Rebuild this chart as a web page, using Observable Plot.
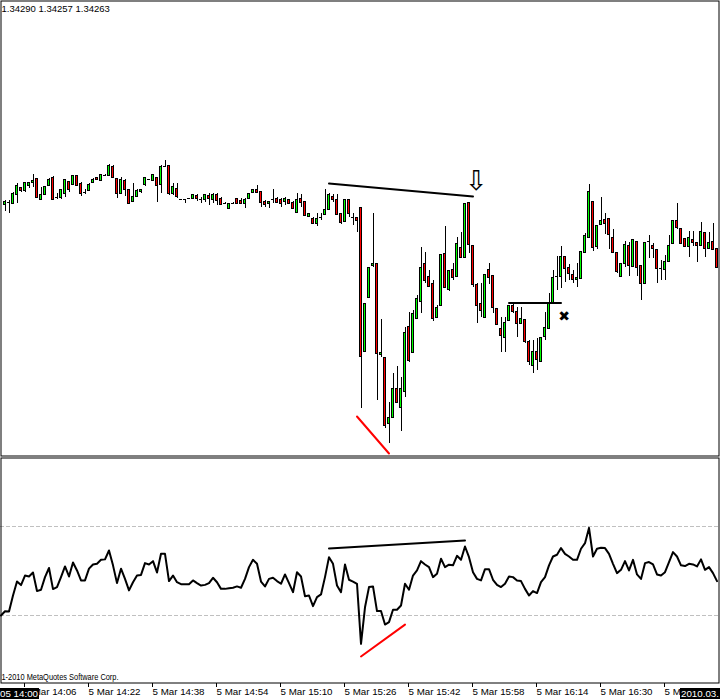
<!DOCTYPE html>
<html><head><meta charset="utf-8">
<script src="https://cdn.jsdelivr.net/npm/d3@7"></script>
<script src="https://cdn.jsdelivr.net/npm/@observablehq/plot@0.6"></script>
<style>
body{margin:0;background:#fff;}
#wrap{position:relative;width:720px;height:700px;overflow:hidden;background:#fff;}
#topPanel{position:absolute;left:0;top:0;}
#botPanel{position:absolute;left:0;top:457px;}
.hl{position:absolute;top:688px;height:11px;background:#000;color:#fff;font:9.75px "Liberation Sans",Arial,sans-serif;line-height:11px;white-space:nowrap;overflow:hidden;display:flex;}
#hlL{left:0;width:39px;justify-content:flex-end;padding-right:1px;box-sizing:border-box;}
#hlR{left:680px;width:40px;justify-content:flex-start;padding-left:1px;box-sizing:border-box;}
</style></head>
<body><div id="wrap"><div id="topPanel"></div><div id="botPanel"></div>
<div class="hl" id="hlL"><span id="hlLt"></span></div>
<div class="hl" id="hlR"><span id="hlRt"></span></div></div>
<script>
// ---- data: EURUSD M1, 5 Mar 2010, bars 14:00 .. 16:59 (index = minutes after 14:00)
const header = "1.34290 1.34257 1.34263";
const copyright = "1-2010 MetaQuotes Software Corp.";
const firstBarLabel = "05 14:00";
const lastBarLabel = "2010.03.";
const tickBars = [6, 22, 38, 54, 70, 86, 102, 118, 134, 150, 166];
const tickLabels = ["5 Mar 14:06","5 Mar 14:22","5 Mar 14:38","5 Mar 14:54","5 Mar 15:10","5 Mar 15:26","5 Mar 15:42","5 Mar 15:58","5 Mar 16:14","5 Mar 16:30","5 Mar 16:46"];

const open = [null,
1.34392,1.34396,1.34394,1.34412,1.34426,1.34420,1.34430,1.34436,1.34444,1.34402,
1.34412,1.34430,1.34446,1.34406,1.34406,1.34414,1.34438,1.34432,1.34450,1.34434,
1.34416,1.34420,1.34436,1.34446,1.34440,1.34450,1.34450,1.34468,1.34444,1.34414,
1.34440,1.34422,1.34398,1.34408,1.34418,1.34432,1.34442,1.34440,1.34446,1.34432,
1.34468,1.34470,1.34414,1.34424,1.34402,1.34402,1.34404,1.34404,1.34410,1.34402,
1.34402,1.34410,1.34402,1.34412,1.34404,1.34394,1.34384,1.34394,1.34404,1.34400,
1.34394,1.34404,1.34416,1.34422,1.34418,1.34398,1.34394,1.34402,1.34404,1.34402,
1.34398,1.34402,1.34396,1.34376,1.34404,1.34398,1.34368,1.34364,1.34354,1.34366,
1.34372,1.34382,1.34408,1.34402,1.34374,1.34358,1.34402,1.34366,1.34366,1.34386,
1.34098,1.34206,1.34270,1.34274,1.34092,1.34086,1.33954,1.33966,1.34024,1.33986,
1.34018,1.34148,1.34096,1.34164,1.34198,1.34274,1.34248,1.34234,1.34166,1.34190,
1.34294,1.34222,1.34262,1.34248,1.34306,1.34286,1.34396,1.34310,1.34232,1.34194,
1.34166,1.34262,1.34250,1.34184,1.34144,1.34126,1.34160,1.34190,1.34178,1.34154,
1.34162,1.34118,1.34070,1.34098,1.34078,1.34128,1.34144,1.34194,1.34248,1.34248,
1.34288,1.34266,1.34252,1.34242,1.34244,1.34296,1.34326,1.34398,1.34308,1.34352,
1.34362,1.34364,1.34326,1.34296,1.34248,1.34274,1.34310,1.34268,1.34318,1.34270,
1.34234,1.34318,1.34310,1.34302,1.34264,1.34262,1.34278,1.34314,1.34360,1.34344,
1.34324,1.34308,1.34322,1.34316,1.34310,1.34336,1.34304,1.34318,1.34304];

const high = [null,
1.34400,1.34400,1.34416,1.34434,1.34426,1.34436,1.34436,1.34452,1.34444,1.34426,
1.34428,1.34444,1.34448,1.34414,1.34422,1.34442,1.34438,1.34450,1.34450,1.34436,
1.34422,1.34434,1.34444,1.34446,1.34452,1.34452,1.34472,1.34470,1.34444,1.34446,
1.34442,1.34422,1.34434,1.34422,1.34422,1.34446,1.34442,1.34452,1.34446,1.34470,
1.34480,1.34470,1.34434,1.34434,1.34402,1.34402,1.34404,1.34412,1.34412,1.34406,
1.34412,1.34414,1.34414,1.34414,1.34406,1.34396,1.34394,1.34396,1.34404,1.34404,
1.34404,1.34414,1.34422,1.34430,1.34418,1.34400,1.34398,1.34422,1.34406,1.34404,
1.34406,1.34402,1.34398,1.34414,1.34412,1.34398,1.34374,1.34366,1.34374,1.34374,
1.34422,1.34414,1.34412,1.34412,1.34374,1.34402,1.34402,1.34374,1.34366,1.34386,
1.34194,1.34266,1.34374,1.34274,1.34162,1.34086,1.33996,1.34054,1.34068,1.34046,
1.34146,1.34176,1.34180,1.34210,1.34306,1.34296,1.34260,1.34240,1.34190,1.34292,
1.34348,1.34260,1.34274,1.34326,1.34336,1.34394,1.34396,1.34310,1.34234,1.34234,
1.34252,1.34274,1.34250,1.34184,1.34166,1.34166,1.34190,1.34194,1.34186,1.34186,
1.34162,1.34120,1.34120,1.34124,1.34126,1.34176,1.34214,1.34260,1.34288,1.34308,
1.34288,1.34272,1.34260,1.34274,1.34298,1.34334,1.34432,1.34398,1.34350,1.34406,
1.34374,1.34364,1.34342,1.34296,1.34274,1.34318,1.34316,1.34322,1.34318,1.34270,
1.34316,1.34330,1.34314,1.34302,1.34280,1.34290,1.34330,1.34360,1.34394,1.34344,
1.34324,1.34338,1.34338,1.34316,1.34356,1.34336,1.34336,1.34354,1.34304];

const low = [null,
1.34378,1.34374,1.34394,1.34394,1.34416,1.34416,1.34424,1.34426,1.34404,1.34402,
1.34410,1.34428,1.34402,1.34402,1.34402,1.34406,1.34416,1.34432,1.34430,1.34408,
1.34412,1.34420,1.34434,1.34440,1.34440,1.34448,1.34448,1.34446,1.34404,1.34412,
1.34408,1.34392,1.34398,1.34406,1.34414,1.34428,1.34440,1.34438,1.34396,1.34414,
1.34466,1.34410,1.34410,1.34404,1.34400,1.34394,1.34404,1.34404,1.34398,1.34394,
1.34396,1.34390,1.34394,1.34390,1.34390,1.34392,1.34382,1.34394,1.34394,1.34394,
1.34384,1.34402,1.34416,1.34416,1.34386,1.34386,1.34384,1.34394,1.34394,1.34386,
1.34390,1.34394,1.34384,1.34376,1.34386,1.34370,1.34368,1.34352,1.34348,1.34360,
1.34370,1.34382,1.34396,1.34370,1.34352,1.34356,1.34366,1.34350,1.34336,1.33984,
1.34098,1.34206,1.34266,1.34000,1.34086,1.33944,1.33914,1.33966,1.33994,1.33938,
1.34006,1.34076,1.34094,1.34162,1.34174,1.34234,1.34226,1.34158,1.34164,1.34190,
1.34224,1.34218,1.34240,1.34248,1.34286,1.34286,1.34294,1.34226,1.34154,1.34166,
1.34164,1.34232,1.34174,1.34150,1.34096,1.34096,1.34160,1.34174,1.34126,1.34154,
1.34114,1.34070,1.34054,1.34060,1.34078,1.34120,1.34144,1.34194,1.34220,1.34224,
1.34236,1.34240,1.34234,1.34226,1.34244,1.34296,1.34326,1.34298,1.34302,1.34352,
1.34332,1.34302,1.34294,1.34254,1.34246,1.34266,1.34248,1.34268,1.34248,1.34200,
1.34234,1.34284,1.34284,1.34234,1.34240,1.34240,1.34278,1.34314,1.34342,1.34314,
1.34306,1.34286,1.34308,1.34276,1.34310,1.34286,1.34304,1.34302,1.34266];

const close = [null,
1.34398,1.34396,1.34414,1.34430,1.34420,1.34436,1.34436,1.34440,1.34406,1.34412,
1.34428,1.34442,1.34402,1.34406,1.34422,1.34442,1.34422,1.34450,1.34430,1.34414,
1.34416,1.34432,1.34442,1.34442,1.34452,1.34450,1.34470,1.34446,1.34414,1.34442,
1.34422,1.34394,1.34408,1.34420,1.34422,1.34446,1.34442,1.34452,1.34430,1.34468,
1.34468,1.34414,1.34428,1.34408,1.34402,1.34402,1.34404,1.34412,1.34404,1.34402,
1.34412,1.34404,1.34412,1.34400,1.34392,1.34394,1.34394,1.34394,1.34394,1.34394,
1.34402,1.34414,1.34422,1.34416,1.34396,1.34392,1.34398,1.34402,1.34396,1.34394,
1.34404,1.34394,1.34384,1.34402,1.34396,1.34370,1.34374,1.34354,1.34364,1.34366,
1.34382,1.34412,1.34402,1.34372,1.34356,1.34402,1.34374,1.34366,1.34360,1.34088,
1.34194,1.34266,1.34274,1.34094,1.34096,1.33950,1.33966,1.34024,1.33996,1.34024,
1.34136,1.34080,1.34174,1.34204,1.34266,1.34240,1.34228,1.34164,1.34186,1.34292,
1.34226,1.34260,1.34246,1.34314,1.34286,1.34394,1.34312,1.34232,1.34190,1.34180,
1.34252,1.34246,1.34186,1.34152,1.34130,1.34156,1.34190,1.34178,1.34154,1.34164,
1.34118,1.34078,1.34098,1.34082,1.34126,1.34146,1.34194,1.34246,1.34248,1.34288,
1.34264,1.34254,1.34242,1.34246,1.34298,1.34330,1.34418,1.34306,1.34350,1.34360,
1.34354,1.34332,1.34296,1.34258,1.34274,1.34312,1.34270,1.34322,1.34266,1.34234,
1.34316,1.34318,1.34304,1.34264,1.34264,1.34278,1.34310,1.34360,1.34346,1.34314,
1.34308,1.34326,1.34316,1.34310,1.34338,1.34304,1.34316,1.34302,1.34266];

// RSI sub-window values
const rsi = [
30.0,31.9,31.8,39.0,45.3,43.7,48.0,47.6,49.4,41.0,
41.6,47.3,51.4,41.9,42.8,47.3,52.1,47.6,53.9,50.3,
45.8,45.8,51.1,53.0,53.3,55.1,55.3,59.3,52.6,44.6,
51.1,46.5,41.3,45.0,48.0,48.3,53.6,53.0,54.5,49.4,
57.8,57.8,45.5,48.0,45.0,44.1,44.1,44.1,45.8,44.6,
43.5,43.8,44.6,47.0,45.0,42.0,42.0,42.3,42.5,43.1,
42.5,46.5,51.8,55.1,53.3,45.3,43.1,46.5,47.0,45.5,
44.3,48.5,44.6,40.5,49.5,47.6,38.7,39.0,34.2,38.3,
39.5,47.3,56.3,53.3,43.5,40.5,53.0,46.1,45.3,44.3,
17.2,33.7,42.8,43.1,32.0,32.0,25.9,27.0,32.6,32.6,
34.5,44.3,41.6,48.0,50.3,54.5,53.0,51.8,47.3,48.8,
55.6,51.8,52.9,52.6,56.9,55.1,61.1,56.3,49.5,46.5,
45.8,50.9,50.9,46.1,43.8,42.8,44.3,47.6,47.3,45.8,
45.5,42.0,39.0,41.0,40.1,45.0,47.3,52.6,56.6,57.4,
60.4,57.8,56.6,55.1,55.1,60.1,62.6,69.5,56.6,60.1,
60.5,60.4,57.8,53.3,49.1,50.6,54.5,50.3,55.1,48.5,
46.5,53.6,54.1,53.0,48.5,48.0,49.5,54.1,58.6,56.6,
52.6,52.3,53.3,53.0,52.1,55.3,50.6,51.8,49.1,45.5];
const rsiLevels = [30, 70];

// hand-drawn annotations (bar index, price / rsi value)
const trendPrice = [{i: 82, p: 1.34434}, {i: 118, p: 1.34408}];
const trendPriceRed = [{i: 89, p: 1.33968}, {i: 97, p: 1.33894}];
const levelLine = [{i: 127, p: 1.34195}, {i: 140, p: 1.34195}];
const arrowMark = [{i: 118.8, p: 1.34438, s: "⇩"}];
const crossMark = [{i: 140.8, p: 1.34167, s: "✖"}];
const trendRsi = [{i: 82, v: 60.2}, {i: 116, v: 63.8}];
const trendRsiRed = [{i: 90, v: 11.5}, {i: 101, v: 25.9}];

// ---- build
const bars = open.map((o, i) => ({i, o, h: high[i], l: low[i], c: close[i], r: rsi[i]}));
const candles = bars.filter(d => d.o != null);
const bodies = candles.filter(d => d.o !== d.c);
const dojis = candles.filter(d => d.o === d.c);
const BULL = "#00ff00", BEAR = "#ff0000";
const font = "'Liberation Sans', Arial, sans-serif";

const priceChart = Plot.plot({
  width: 720, height: 457, margin: 0,
  x: {domain: [0, 179], range: [0.5, 716.5], axis: null},
  y: {domain: [1.33886, 1.348], range: [457, 0], axis: null},
  style: {background: "white", fontFamily: font},
  marks: [
    Plot.frame({stroke: "black", insetLeft: 0.5, insetTop: 0.5, insetRight: 1.5, insetBottom: 1.5}),
    Plot.ruleX(candles, {x: "i", y1: "l", y2: "h", stroke: "black", strokeWidth: 1, shapeRendering: "crispEdges"}),
    Plot.rect(bodies, {x1: d => d.i - 0.25, x2: d => d.i + 0.25, y1: "o", y2: "c",
      fill: d => d.c > d.o ? BULL : BEAR, stroke: "black", strokeWidth: 1, shapeRendering: "crispEdges"}),
    Plot.ruleY(dojis, {y: "o", x1: d => d.i - 0.375, x2: d => d.i + 0.375, stroke: "black", strokeWidth: 1, shapeRendering: "crispEdges"}),
    Plot.line(trendPrice, {x: "i", y: "p", stroke: "black", strokeWidth: 2}),
    Plot.line(trendPriceRed, {x: "i", y: "p", stroke: "#ff0000", strokeWidth: 2}),
    Plot.line(levelLine, {x: "i", y: "p", stroke: "black", strokeWidth: 2}),
    Plot.text(arrowMark, {x: "i", y: "p", text: "s", fontSize: 27, fill: "black", fontFamily: "DejaVu Sans"}),
    Plot.text(crossMark, {x: "i", y: "p", text: "s", fontSize: 14, fill: "black", fontFamily: "DejaVu Sans"}),
    Plot.text([header], {text: d => d, frameAnchor: "top-left", dx: 1, dy: 5, fontSize: 9.5, fill: "black", textAnchor: "start", lineAnchor: "top"})
  ]
});
document.getElementById("topPanel").appendChild(priceChart);

const tickPos = tickBars.map(b => b - 0.5);
const labelAt = new Map(tickPos.map((p, k) => [p, tickLabels[k]]));

const rsiChart = Plot.plot({
  width: 720, height: 243, marginLeft: 0, marginRight: 0, marginTop: 0, marginBottom: 17,
  x: {domain: [0, 179], range: [0.5, 716.5]},
  y: {domain: [0, 100], range: [224.5, 2.75], axis: null},
  style: {background: "white", fontFamily: font},
  marks: [
    Plot.ruleY(rsiLevels, {y: d => d, stroke: "#c0c0c0", strokeDasharray: "4,2", strokeWidth: 1, shapeRendering: "crispEdges"}),
    Plot.frame({stroke: "black", insetLeft: 0.5, insetTop: 0.5, insetRight: 1.5, insetBottom: 0.5}),
    Plot.line(bars, {x: "i", y: "r", stroke: "black", strokeWidth: 2}),
    Plot.line(trendRsi, {x: "i", y: "v", stroke: "black", strokeWidth: 2}),
    Plot.line(trendRsiRed, {x: "i", y: "v", stroke: "#ff0000", strokeWidth: 2}),
    Plot.text([copyright], {text: d => d, frameAnchor: "bottom-left", dx: 1, dy: -4, fontSize: 9.5, fill: "black", textAnchor: "start", lineAnchor: "bottom"}),
    Plot.axisX(tickPos, {tickFormat: d => labelAt.get(d), tickSize: 4, tickPadding: 1, textAnchor: "start", dx: 1.5, fontSize: 9.75, stroke: "black", fill: "black", label: null})
  ]
});
document.getElementById("botPanel").appendChild(rsiChart);

// squeeze the copyright line to the width it has in the terminal
d3.select(rsiChart).selectAll("text").filter(function() { return this.textContent === copyright; })
  .attr("textLength", 117).attr("lengthAdjust", "spacingAndGlyphs");

document.getElementById("hlLt").textContent = firstBarLabel;
document.getElementById("hlRt").textContent = lastBarLabel;
</script>
</body></html>
